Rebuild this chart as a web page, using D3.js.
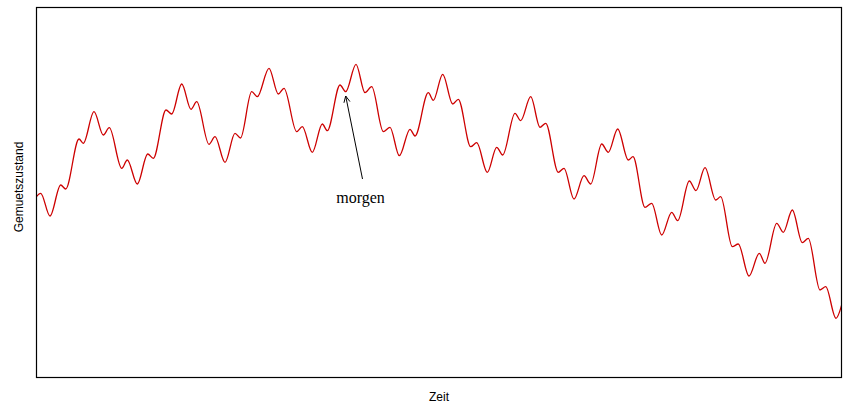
<!DOCTYPE html>
<html>
<head>
<meta charset="utf-8">
<script src="https://cdn.jsdelivr.net/npm/d3@7"></script>
<style>
html,body{margin:0;padding:0;background:#fff;}
svg{display:block;}
</style>
</head>
<body>
<svg id="chart" width="849" height="405"></svg>
<script>
// Zeit (time) and Gemuetszustand (mood) readings, local extrema of the curve
const zeit = [0, 4.7, 14, 24.7, 29.7, 43, 47.3, 58, 67.3, 73.3, 85.7, 91.3, 101.3, 111.7, 117.3,
  130, 135.7, 145.7, 155, 160.7, 173, 179, 189, 199, 204.5, 215.7, 221.3, 233, 242.3, 248,
  260.7, 266.3, 276.3, 286.3, 291.3, 304, 309.7, 320, 329, 335.7, 347.3, 354, 363.3, 374, 379,
  392.3, 397.3, 406.7, 416.7, 422.3, 434.7, 440.7, 451.3, 460.7, 466.7, 479, 484.7, 494.7, 504, 509.7,
  522.3, 528, 538, 548, 554.7, 565.7, 572.3, 581.7, 592.3, 597, 609, 615.7, 625.7, 635.7, 641.7,
  653.3, 660, 669, 679.7, 684.7, 696.3, 702.3, 713, 723.3, 729, 740.7, 747.3, 756.3, 766.3, 772.3,
  784, 789.7, 800, 806];
const gemuet = [181, 184.7, 162, 193, 189, 239, 234.7, 266.3, 243, 250.3, 209.7, 218, 194, 224, 219.7,
  268, 264, 294, 268.7, 276.3, 233.7, 241.3, 215.7, 244.7, 240, 286.3, 281.3, 309.7, 284, 289.7,
  246.3, 251.3, 225.7, 254, 247.3, 293, 286.3, 313.7, 285.3, 291.3, 246.3, 250.7, 222.3, 248.7, 242,
  285.3, 277.7, 303.7, 274, 278.7, 231.3, 235.3, 205.7, 230.7, 223, 264.7, 257.3, 281.3, 250.7, 254.7,
  205.7, 209.7, 179, 202.3, 194, 234, 225.7, 249, 218, 221.3, 170.7, 174.7, 143, 165.7, 157.3,
  197, 187.3, 210.3, 178, 181.3, 131.3, 134, 102, 124.7, 114.7, 154.7, 145.7, 168, 135.3, 139.7,
  88, 91.3, 59.7, 74];
const xDomain = [0, 806];
const yDomain = [0, 371];
const annotationText = "morgen";
const annotationPoint = [309.7, 282];   // arrow head (zeit, gemuet)
const annotationTail = [326.5, 199];    // arrow tail
const annotationLabel = [324.5, 175.5]; // text baseline position
const xTitle = "Zeit";
const yTitle = "Gemuetszustand";

const svg = d3.select("#chart");
const m = {left: 36, top: 7, right: 849 - 842, bottom: 405 - 378};
const W = 849, H = 405;
const x = d3.scaleLinear().domain(xDomain).range([m.left, W - m.right]);
const y = d3.scaleLinear().domain(yDomain).range([H - m.bottom, m.top]);

const data = zeit.map((t, i) => ({t, v: gemuet[i]}));

const defs = svg.append("defs");
defs.append("clipPath").attr("id", "clip").append("rect")
  .attr("x", m.left).attr("y", m.top).attr("width", W - m.right - m.left).attr("height", H - m.bottom - m.top);

svg.append("path")
  .datum(data)
  .attr("clip-path", "url(#clip)")
  .attr("fill", "none")
  .attr("stroke", "#cd0000")
  .attr("stroke-width", 1.3)
  .attr("d", d3.line().x(d => x(d.t)).y(d => y(d.v)).curve(d3.curveMonotoneX));

// frame
svg.append("rect")
  .attr("x", m.left + 0.5).attr("y", m.top + 0.5)
  .attr("width", W - m.right - m.left - 1).attr("height", H - m.bottom - m.top - 1)
  .attr("fill", "none").attr("stroke", "#000").attr("stroke-width", 1.2);

// axis titles
svg.append("text")
  .attr("x", (x.range()[0] + x.range()[1]) / 2).attr("y", 401)
  .attr("text-anchor", "middle")
  .attr("font-family", "Liberation Sans, Arial, sans-serif").attr("font-size", 12)
  .text(xTitle);
svg.append("text")
  .attr("transform", `translate(22.5,187) rotate(-90)`)
  .attr("text-anchor", "middle")
  .attr("font-family", "Liberation Sans, Arial, sans-serif").attr("font-size", 12)
  .text(yTitle);

// annotation arrow
const hx = x(annotationPoint[0]), hy = y(annotationPoint[1]);
const tx = x(annotationTail[0]), ty = y(annotationTail[1]);
svg.append("line")
  .attr("x1", tx).attr("y1", ty).attr("x2", hx).attr("y2", hy)
  .attr("stroke", "#000").attr("stroke-width", 1);
const ang = Math.atan2(ty - hy, tx - hx);
const L = 7, a = 0.45;
svg.append("path")
  .attr("d", `M${hx + L * Math.cos(ang - a)},${hy + L * Math.sin(ang - a)}L${hx},${hy}L${hx + L * Math.cos(ang + a)},${hy + L * Math.sin(ang + a)}`)
  .attr("fill", "none").attr("stroke", "#000").attr("stroke-width", 1);

svg.append("text")
  .attr("x", x(annotationLabel[0])).attr("y", y(annotationLabel[1]))
  .attr("text-anchor", "middle")
  .attr("font-family", "Liberation Serif, Times New Roman, serif").attr("font-size", 16)
  .text(annotationText);
</script>
</body>
</html>
